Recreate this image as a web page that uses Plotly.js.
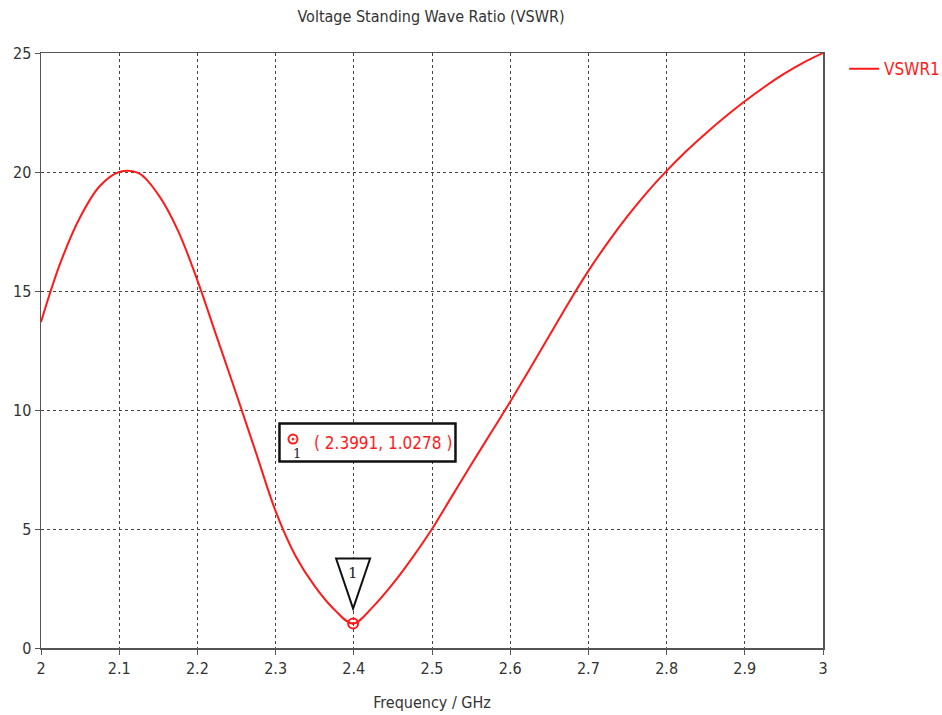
<!DOCTYPE html>
<html><head><meta charset="utf-8">
<script src="https://cdn.plot.ly/plotly-3.0.1.min.js"></script>
<style>body{margin:0;background:#fff}</style>
</head><body><div id="chart" style="width:942px;height:715px"></div>
<script>
const freqGHz = [2.0, 2.025, 2.05, 2.075, 2.1, 2.125, 2.15, 2.175, 2.2, 2.225, 2.25, 2.275, 2.3, 2.325, 2.35, 2.375,
  2.3991, 2.425, 2.45, 2.475, 2.5, 2.525, 2.55, 2.575, 2.6, 2.625, 2.65, 2.675, 2.7, 2.725, 2.75, 2.775,
  2.8, 2.825, 2.85, 2.875, 2.9, 2.925, 2.95, 2.975, 3.0];
const vswr1 = [13.7, 16.2, 18.1, 19.4, 20.0, 19.95, 19.05, 17.55, 15.45, 13.05, 10.65, 8.2, 5.75, 3.9, 2.6, 1.62,
  1.0278, 1.75, 2.7, 3.8, 5.0, 6.35, 7.7, 9.02, 10.35, 11.72, 13.12, 14.52, 15.845, 17.045, 18.145, 19.145,
  20.045, 20.87, 21.62, 22.32, 22.97, 23.57, 24.12, 24.595, 25.0];
const markerFreq = [2.3991];
const markerVswr = [1.0278];
const markerId = ['1'];
const seriesName = 'VSWR1';
const xTicks = [2, 2.1, 2.2, 2.3, 2.4, 2.5, 2.6, 2.7, 2.8, 2.9, 3];
const yTicks = [0, 5, 10, 15, 20, 25];
const boxPos = {x: 2.4175, y: 8.63};

const red = '#ff1a1a';
const font = 'Tahoma, "DejaVu Sans Condensed", "DejaVu Sans", sans-serif';

const traces = [
  {x: freqGHz, y: vswr1, type: 'scatter', mode: 'lines', name: seriesName,
   line: {color: red, width: 2, shape: 'spline', smoothing: 1}},
  {x: markerFreq, y: markerVswr, type: 'scatter', mode: 'markers', showlegend: false, hoverinfo: 'skip',
   marker: {symbol: 'circle-open-dot', size: 10, color: red, line: {width: 2, color: red}}}
];

const axisCommon = {
  showline: true, mirror: true, linecolor: '#555', linewidth: 1.5,
  showgrid: true, gridcolor: '#444', griddash: 'dot', gridwidth: 1,
  ticks: 'outside', ticklen: 5, tickcolor: '#555', zeroline: false,
  tickfont: {family: font, size: 16, color: '#333'}
};

const layout = {
  width: 942, height: 715,
  margin: {l: 41, r: 119, t: 53, b: 67, autoexpand: false},
  paper_bgcolor: '#fff', plot_bgcolor: '#fff',
  title: {text: 'Voltage Standing Wave Ratio (VSWR)', x: 431/942, xanchor: 'center', y: 0.977, yanchor: 'middle',
          font: {family: font, size: 16, color: '#333'}},
  xaxis: Object.assign({}, axisCommon, {range: [2, 3], tickvals: xTicks, ticktext: xTicks.map(String),
          title: {text: 'Frequency / GHz', standoff: 20, font: {family: font, size: 16, color: '#333'}}}),
  yaxis: Object.assign({}, axisCommon, {range: [0, 25], tickvals: yTicks}),
  showlegend: true,
  legend: {x: 1.027, y: 1.003, xanchor: 'left', yanchor: 'top', bgcolor: 'rgba(0,0,0,0)',
           font: {family: font, size: 17, color: red}},
  shapes: [
    {type: 'path', xref: 'x', yref: 'y', xsizemode: 'pixel', ysizemode: 'pixel',
     xanchor: markerFreq[0], yanchor: markerVswr[0],
     path: 'M -17,65 L 17,65 L 0,15 Z', line: {color: '#111', width: 2}, fillcolor: '#fff'},
    {type: 'rect', xref: 'x', yref: 'y', xsizemode: 'pixel', ysizemode: 'pixel',
     xanchor: boxPos.x, yanchor: boxPos.y, x0: -88, x1: 88, y0: -19, y1: 19,
     line: {color: '#111', width: 2.5}, fillcolor: '#fff'},
    {type: 'circle', xref: 'x', yref: 'y', xsizemode: 'pixel', ysizemode: 'pixel',
     xanchor: boxPos.x, yanchor: boxPos.y, x0: -79, x1: -70, y0: -1, y1: 8,
     line: {color: red, width: 2}, fillcolor: '#fff'},
    {type: 'circle', xref: 'x', yref: 'y', xsizemode: 'pixel', ysizemode: 'pixel',
     xanchor: boxPos.x, yanchor: boxPos.y, x0: -75.5, x1: -73.5, y0: 2.5, y1: 4.5,
     line: {color: red, width: 1}, fillcolor: red}
  ],
  annotations: [
    {x: markerFreq[0], y: markerVswr[0], xref: 'x', yref: 'y', text: markerId[0], showarrow: false,
     yshift: 51, font: {family: 'DejaVu Serif, serif', size: 15, color: '#222'}},
    {x: boxPos.x, y: boxPos.y, xref: 'x', yref: 'y', showarrow: false, xshift: 16,
     text: '( ' + markerFreq[0].toFixed(4) + ', ' + markerVswr[0].toFixed(4) + ' )',
     font: {family: font, size: 17, color: red}},
    {x: boxPos.x, y: boxPos.y, xref: 'x', yref: 'y', showarrow: false, xshift: -70, yshift: -11,
     text: markerId[0], font: {family: 'DejaVu Serif, serif', size: 13, color: '#223'}}
  ]
};

Plotly.newPlot('chart', traces, layout, {displayModeBar: false, staticPlot: true});
</script>
</body></html>
